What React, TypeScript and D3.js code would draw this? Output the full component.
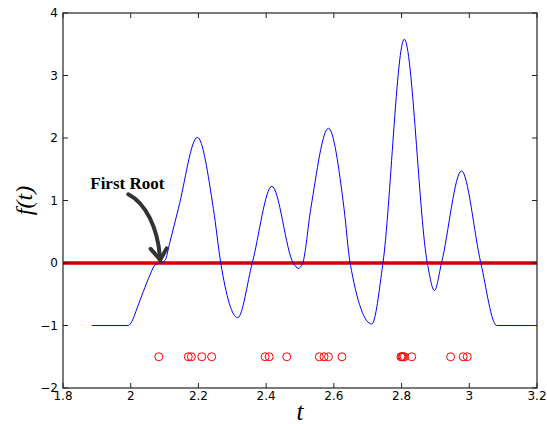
import React from "react";
import * as d3 from "d3";

// curve f(t) (extrema, zero crossings and a few flank points)
const tValues = [
  1.885, 1.993, 2.003, 2.019, 2.037, 2.057, 2.072, 2.086, 2.101, 2.116, 2.141, 2.197,
  2.244, 2.266, 2.316, 2.359, 2.417, 2.48, 2.495, 2.508, 2.532, 2.584, 2.63, 2.648,
  2.712, 2.745, 2.808, 2.876, 2.897, 2.918, 2.977, 3.034, 3.081, 3.2,
];
const fValues = [
  -1, -1, -0.94, -0.72, -0.46, -0.19, -0.03, 0, 0.04, 0.34, 0.875, 2.01,
  0.875, 0, -0.875, 0, 1.227, 0, -0.085, 0, 0.875, 2.155, 0.875, 0,
  -0.976, 0, 3.58, 0, -0.44, 0, 1.472, 0, -1, -1,
];

// sample points marked with circles at f = -1.5
const sampleT = [
  2.083, 2.17, 2.179, 2.21, 2.239, 2.397, 2.409, 2.461, 2.557, 2.571, 2.584, 2.624,
  2.798, 2.801, 2.804, 2.808, 2.83, 2.945, 2.982, 2.994,
];
const sampleLevel = -1.5;

const xTicks = [1.8, 2, 2.2, 2.4, 2.6, 2.8, 3, 3.2];
const yTicks = [-2, -1, 0, 1, 2, 3, 4];

const W = 547;
const H = 424;
const margin = { left: 63, right: 10, top: 13, bottom: 36 };

const App = () => {
  const x = d3.scaleLinear().domain([1.8, 3.2]).range([margin.left, W - margin.right]);
  const y = d3.scaleLinear().domain([-2, 4]).range([H - margin.bottom, margin.top]);
  const x0 = margin.left;
  const x1 = W - margin.right;
  const y0 = H - margin.bottom;
  const y1 = margin.top;

  const pts = tValues.map((t, i) => [t, fValues[i]] as [number, number]);
  const line = d3
    .line<[number, number]>()
    .x((d) => x(d[0]))
    .y((d) => y(d[1]))
    .curve(d3.curveMonotoneX);

  const fmt = (v: number) => (v < 0 ? "\u2212" + Math.abs(v) : String(v));

  // annotation arrow
  const tailX = x(1.993);
  const tailY = y(1.1);
  const tipX = x(2.087);
  const tipY = y(0.05);
  const arrowPath = `M${tailX},${tailY} C${tailX + 17},${tailY + 9} ${tipX - 2},${tipY - 33} ${tipX},${tipY}`;
  const headPath = `M${tipX - 9.5},${tipY - 11} L${tipX},${tipY} L${tipX + 6.5},${tipY - 11.5}`;

  const tickLen = 5;

  return (
    <svg
      width={W}
      height={H}
      style={{ position: "absolute", left: 0, top: 0, background: "#fff" }}
    >
      {/* zero line */}
      <line x1={x(1.8)} x2={x(3.2)} y1={y(0)} y2={y(0)} stroke="#cc0000" strokeWidth={3.5} />

      {/* curve */}
      <path d={line(pts) || ""} fill="none" stroke="#0000ff" strokeWidth={1} />

      {/* samples */}
      {sampleT.map((t, i) => (
        <circle key={i} cx={x(t)} cy={y(sampleLevel)} r={4} fill="none" stroke="#ff0000" strokeWidth={1} />
      ))}

      {/* annotation */}
      <text
        x={x(1.99)}
        y={y(1.184)}
        textAnchor="middle"
        fontFamily="'Liberation Serif', 'Times New Roman', serif"
        fontWeight="bold"
        fontSize={17}
        fill="#000"
      >
        First Root
      </text>
      <path d={arrowPath} fill="none" stroke="#333" strokeWidth={4} strokeLinecap="round" />
      <path d={headPath} fill="none" stroke="#333" strokeWidth={4} strokeLinejoin="miter" strokeLinecap="round" />

      {/* frame */}
      <rect x={x0} y={y1} width={x1 - x0} height={y0 - y1} fill="none" stroke="#222" strokeWidth={1.2} />

      {/* x ticks */}
      {xTicks.map((t) => (
        <g key={"x" + t}>
          <line x1={x(t)} x2={x(t)} y1={y0} y2={y0 - tickLen} stroke="#222" strokeWidth={1} />
          <line x1={x(t)} x2={x(t)} y1={y1} y2={y1 + tickLen} stroke="#222" strokeWidth={1} />
          <text
            x={x(t)}
            y={y0 + 12}
            textAnchor="middle"
            fontFamily="'DejaVu Sans', sans-serif"
            fontSize={12}
            fill="#000"
          >
            {fmt(t)}
          </text>
        </g>
      ))}

      {/* y ticks */}
      {yTicks.map((v) => (
        <g key={"y" + v}>
          <line x1={x0} x2={x0 + tickLen} y1={y(v)} y2={y(v)} stroke="#222" strokeWidth={1} />
          <line x1={x1} x2={x1 - tickLen} y1={y(v)} y2={y(v)} stroke="#222" strokeWidth={1} />
          <text
            x={x0 - 5}
            y={y(v) + 4.3}
            textAnchor="end"
            fontFamily="'DejaVu Sans', sans-serif"
            fontSize={12}
            fill="#000"
          >
            {fmt(v)}
          </text>
        </g>
      ))}

      {/* axis labels */}
      <text
        x={(x0 + x1) / 2}
        y={420}
        textAnchor="middle"
        fontFamily="'Liberation Serif', 'Times New Roman', serif"
        fontStyle="italic"
        fontSize={25}
        fill="#000"
      >
        t
      </text>
      <text
        transform={`translate(31.5, ${(y0 + y1) / 2}) rotate(-90)`}
        textAnchor="middle"
        fontFamily="'Liberation Serif', 'Times New Roman', serif"
        fontStyle="italic"
        fontSize={24}
        fill="#000"
      >
        f(t)
      </text>
    </svg>
  );
};

export default App;
